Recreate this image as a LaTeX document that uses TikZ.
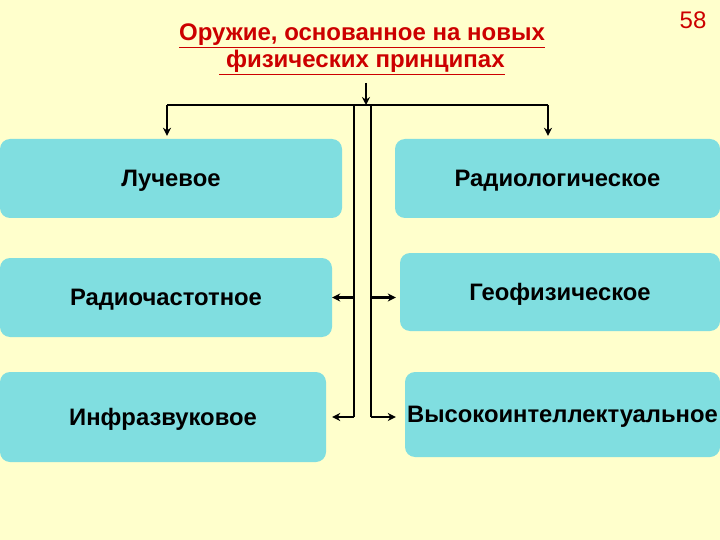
\documentclass[tikz,border=0pt]{standalone}
\usepackage{fontspec}
\setmainfont{Liberation Sans}
\usepackage{tikz}
\usetikzlibrary{arrows.meta,positioning,calc}
\definecolor{slideBg}{RGB}{255,255,204}
\definecolor{boxFill}{RGB}{128,222,224}
\definecolor{titleRed}{RGB}{204,0,0}
\tikzset{
    wBox/.style={
        rectangle,
        fill=boxFill,
        rounded corners=10pt,
        minimum width=#1,
        inner sep=0pt,
        text depth=0pt,
        font=\fontsize{23.8}{27}\selectfont\bfseries,
        align=center
    },
    wArrow/.style={-{Stealth[length=8pt,width=8pt]}, line width=2.8pt, draw=black},
    wLine/.style={line width=2.8pt, draw=black}
}
\begin{document}
\begin{tikzpicture}[x=1pt,y=-1pt]
\fill[slideBg] (0,0) rectangle (720,540);
\useasboundingbox (0,0) rectangle (720,540);

% title and page number
\node[font=\fontsize{24}{27}\selectfont\bfseries, text=titleRed, align=center] (title) at (362,49)
    {\underline{Оружие, основанное на новых}\\\underline{\ физических принципах}};
\node[font=\fontsize{24}{28}\selectfont, text=titleRed] (page) at (693,20) {58};

% left column
\node[wBox=342pt, minimum height=79pt] (luch) at (171,178.5) {Лучевое};
\node[wBox=332pt, minimum height=79pt] (radch) at (166,297.5) {Радиочастотное};
\node[wBox=326pt, minimum height=90pt] (infra) at (163,417) {Инфразвуковое};

% right column
\node[wBox=325pt, minimum height=79pt] (radlog) at (557.5,178.5) {Радиологическое};
\node[wBox=320pt, minimum height=78pt] (geo) at (560,292) {Геофизическое};
\node[wBox=315pt, minimum height=85pt] (vys) at (562.5,414.5) {Высокоинтеллектуальное};

% connectors
\coordinate (src) at (366,83);
\coordinate (hub) at (366,105);
\coordinate (lv) at (354,105);
\coordinate (rv) at (371,105);
\coordinate (lhook) at (167,105);
\coordinate (rhook) at (548,105);

\draw[wArrow] (src) -- (hub);
\draw[wLine] (lhook) -- (rhook);
\draw[wArrow, shorten >=3pt] (lhook) -- (lhook |- luch.north);
\draw[wArrow, shorten >=3pt] (rhook) -- (rhook |- radlog.north);
\draw[wLine] (lv) -- (lv |- infra.east);
\draw[wLine] (rv) -- (rv |- infra.east);
\draw[wArrow] (lv |- radch.east) -- (radch.east);
\draw[wArrow] (lv |- infra.east) -- (radch.east |- infra.east);
\draw[wArrow, shorten >=4pt] (rv |- radch.east) -- (geo.west |- radch.east);
\draw[wArrow, shorten >=4pt] (rv |- infra.east) -- (geo.west |- infra.east);
\end{tikzpicture}
\end{document}
